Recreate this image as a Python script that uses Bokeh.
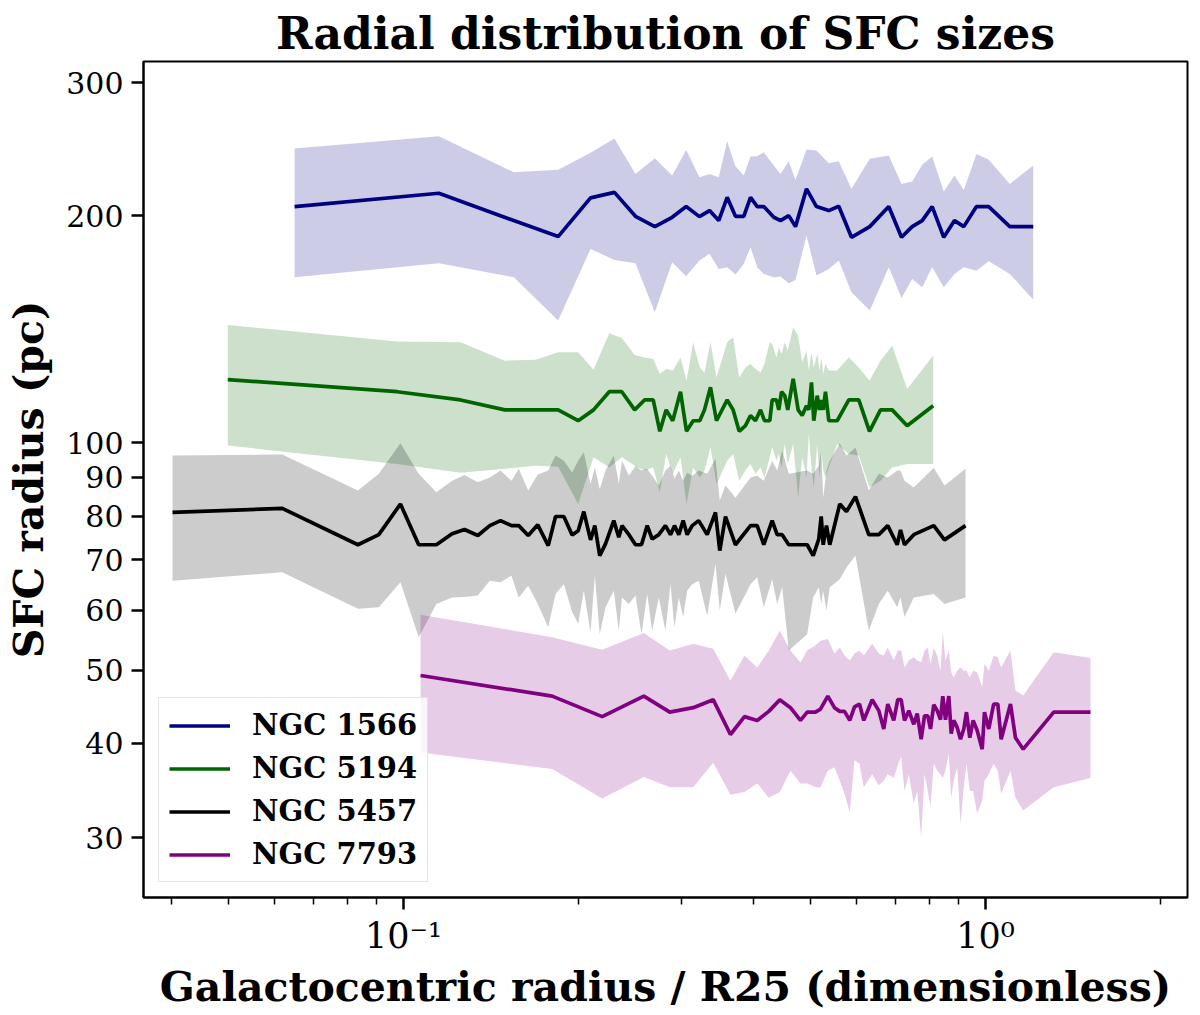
from bokeh.embed import file_html
from bokeh.models import CustomJSTickFormatter, FixedTicker, Range1d
from bokeh.plotting import figure
from bokeh.resources import INLINE

# NGC 1566
r_1566 = [0.0650, 0.1150, 0.1547, 0.1844, 0.2096, 0.2304, 0.2504, 0.2703, 0.2895, 0.3060,
          0.3225, 0.3356, 0.3481, 0.3599, 0.3719, 0.3843, 0.3947, 0.4053, 0.4160, 0.4328,
          0.4444, 0.4592, 0.4716, 0.4926, 0.5124, 0.5380, 0.5597, 0.5885, 0.6327, 0.6821,
          0.7173, 0.7483, 0.7785, 0.8099, 0.8479, 0.8846, 0.9178, 0.9650, 1.013, 1.101, 1.208]
size_1566 = [205.6, 214.1, 197.0, 187.6, 211.1, 214.7, 199.6, 193.4, 199.0, 205.6,
             199.4, 203.1, 197.0, 211.5, 199.6, 199.6, 211.5, 205.6, 205.6, 199.0,
             197.0, 200.0, 193.4, 217.0, 205.6, 203.1, 205.8, 187.2, 193.4, 205.6,
             187.2, 193.4, 197.0, 205.6, 187.2, 197.0, 193.4, 205.6, 205.6, 193.4, 193.4]
hi_1566 = [245.5, 254.7, 228.2, 230.1, 242.2, 253.0, 227.1, 238.2, 226.0, 244.4,
           224.8, 227.1, 224.8, 250.9, 232.5, 226.0, 239.5, 239.7, 242.6, 233.0,
           227.1, 236.0, 223.0, 244.6, 243.9, 234.6, 236.0, 217.0, 237.8, 240.2,
           220.3, 221.9, 233.5, 239.5, 215.2, 226.0, 216.3, 241.4, 237.1, 220.3, 233.0]
lo_1566 = [165.7, 172.9, 165.7, 145.2, 180.7, 174.7, 172.9, 148.9, 173.5, 166.2,
           174.4, 178.0, 170.0, 170.8, 167.1, 172.6, 181.6, 170.8, 167.4, 165.7,
           166.1, 162.7, 164.4, 188.2, 166.6, 170.0, 174.4, 158.3, 149.7, 170.8,
           155.6, 164.9, 160.7, 170.8, 160.7, 167.4, 170.8, 169.1, 174.0, 167.4, 154.7]

# NGC 5194
r_5194 = [0.0499, 0.0975, 0.1253, 0.1493, 0.1686, 0.1844, 0.1996, 0.2121, 0.2257, 0.2372,
          0.2496, 0.2595, 0.2686, 0.2757, 0.2827, 0.2902, 0.2992, 0.3064, 0.3146, 0.3229,
          0.3290, 0.3369, 0.3450, 0.3599, 0.3685, 0.3774, 0.3869, 0.3947, 0.4025, 0.4106,
          0.4171, 0.4260, 0.4300, 0.4374, 0.4414, 0.4462, 0.4520, 0.4574, 0.4673, 0.4766,
          0.4842, 0.4926, 0.4971, 0.5024, 0.5070, 0.5139, 0.5186, 0.5227, 0.5262, 0.5310,
          0.5380, 0.5562, 0.5823, 0.6058, 0.6320, 0.6601, 0.6914, 0.7336, 0.8131]
size_5194 = [121.3, 116.9, 114.0, 110.6, 110.6, 110.6, 107.0, 110.6, 116.9, 116.9,
             110.6, 114.0, 114.0, 103.6, 110.6, 107.0, 116.9, 103.6, 107.0, 107.0,
             110.6, 118.5, 107.0, 114.0, 110.6, 103.6, 105.4, 108.7, 107.0, 110.6,
             107.0, 107.0, 114.0, 114.0, 110.6, 116.9, 115.5, 110.6, 121.6, 110.6,
             108.7, 112.0, 110.6, 120.3, 107.0, 115.5, 110.6, 114.0, 110.6, 116.9,
             107.0, 107.0, 114.0, 114.0, 103.6, 110.6, 110.6, 105.4, 112.0]
hi_5194 = [143.3, 136.2, 135.9, 128.5, 128.9, 131.8, 131.8, 125.0, 139.7, 137.7,
           130.7, 129.8, 129.2, 123.4, 125.3, 124.7, 129.8, 120.9, 135.9, 125.9,
           124.0, 135.9, 122.1, 135.9, 138.0, 122.1, 125.9, 127.2, 125.3, 124.0,
           127.2, 135.9, 135.2, 129.8, 133.9, 131.2, 135.9, 132.5, 142.3, 138.7,
           127.9, 132.5, 124.7, 131.8, 125.9, 131.2, 124.7, 129.8, 123.4, 127.2,
           124.7, 124.7, 129.8, 125.9, 120.9, 128.5, 134.5, 117.9, 130.5]
lo_5194 = [99.2, 93.8, 91.3, 92.4, 93.3, 93.0, 83.0, 95.7, 92.8, 95.7,
           93.3, 91.9, 92.8, 86.0, 96.7, 91.0, 95.7, 83.0, 92.8, 90.0,
           91.9, 98.7, 88.2, 94.7, 96.7, 89.1, 91.9, 93.8, 91.0, 92.8,
           90.0, 95.7, 98.7, 94.7, 96.7, 92.8, 99.7, 93.8, 99.7, 84.7,
           95.7, 90.0, 102.8, 92.8, 87.3, 99.7, 90.0, 97.7, 91.9, 90.0,
           92.8, 99.7, 96.7, 96.2, 87.3, 89.1, 92.8, 93.8, 93.8]

# NGC 5457
r_5457 = [0.0401, 0.0619, 0.0835, 0.0907, 0.0988, 0.1062, 0.1139, 0.1212, 0.1273, 0.1342,
          0.1407, 0.1468, 0.1533, 0.1578, 0.1638, 0.1701, 0.1773, 0.1825, 0.1886, 0.1949,
          0.1996, 0.2041, 0.2096, 0.2132, 0.2174, 0.2224, 0.2298, 0.2344, 0.2374, 0.2440,
          0.2504, 0.2564, 0.2623, 0.2675, 0.2746, 0.2819, 0.2876, 0.2922, 0.2972, 0.3024,
          0.3072, 0.3134, 0.3216, 0.3325, 0.3436, 0.3495, 0.3575, 0.3719, 0.3947, 0.4053,
          0.4160, 0.4300, 0.4386, 0.4474, 0.4592, 0.4939, 0.5058, 0.5171, 0.5221, 0.5262,
          0.5331, 0.5401, 0.5619, 0.5770, 0.5979, 0.6302, 0.6557, 0.6794, 0.7052, 0.7145,
          0.7259, 0.7530, 0.8150, 0.8503, 0.9240]
size_5457 = [80.9, 81.9, 73.3, 75.6, 83.0, 73.3, 73.3, 75.8, 76.8, 75.4,
             77.7, 78.9, 77.7, 77.7, 75.4, 77.9, 73.1, 79.9, 79.9, 75.5,
             76.5, 81.1, 74.4, 77.7, 70.9, 73.5, 78.9, 75.0, 77.7, 75.6,
             73.3, 73.3, 77.7, 74.6, 75.6, 77.7, 75.6, 77.7, 75.6, 78.9,
             75.6, 77.7, 78.9, 75.6, 80.9, 72.0, 79.9, 73.3, 77.7, 77.7,
             73.3, 78.9, 75.6, 75.6, 73.3, 73.3, 70.9, 74.6, 79.9, 73.3,
             77.7, 73.3, 83.0, 81.1, 84.9, 75.6, 75.6, 77.7, 73.3, 76.7,
             73.3, 75.6, 77.7, 74.4, 77.7]
hi_5457 = [96.2, 96.5, 86.5, 91.0, 99.9, 91.0, 86.0, 89.1, 90.7, 88.7,
           90.0, 91.9, 89.1, 92.4, 86.5, 90.8, 91.9, 96.2, 94.7, 91.4,
           94.7, 97.2, 88.2, 92.8, 86.9, 91.9, 96.2, 88.3, 94.7, 90.5,
           93.3, 91.9, 92.4, 90.5, 87.8, 91.9, 93.3, 89.7, 91.9, 89.1,
           91.3, 90.5, 91.9, 91.0, 95.3, 83.9, 87.8, 84.6, 90.0, 90.5,
           89.1, 94.7, 91.9, 97.7, 91.0, 91.9, 91.0, 93.3, 97.7, 84.6,
           91.9, 94.7, 99.8, 96.2, 98.6, 86.5, 91.0, 90.0, 91.9, 91.9,
           89.1, 87.3, 92.7, 87.8, 92.4]
lo_5457 = [65.7, 67.4, 60.3, 60.6, 65.4, 55.3, 61.2, 62.4, 62.5, 62.8,
           65.7, 65.4, 66.7, 62.4, 64.7, 61.2, 57.0, 63.1, 65.0, 59.7,
           57.6, 63.7, 56.1, 66.7, 55.8, 60.6, 63.7, 56.4, 62.4, 61.2,
           62.8, 55.8, 63.1, 56.4, 62.4, 56.4, 65.0, 57.0, 62.4, 58.8,
           63.7, 65.0, 65.7, 59.0, 69.1, 60.0, 67.1, 59.4, 65.0, 66.4,
           60.6, 66.0, 61.2, 64.4, 53.1, 55.8, 62.4, 64.4, 61.2, 63.7,
           60.0, 64.4, 66.0, 68.4, 70.9, 56.4, 61.2, 63.7, 60.6, 62.4,
           58.8, 62.4, 63.1, 61.2, 62.4]

# NGC 7793
r_7793 = [0.1070, 0.1801, 0.2195, 0.2588, 0.2868, 0.3146, 0.3405, 0.3646, 0.3854, 0.4053,
          0.4243, 0.4432, 0.4623, 0.4810, 0.4939, 0.5104, 0.5206, 0.5359, 0.5502, 0.5619,
          0.5725, 0.5846, 0.5956, 0.6075, 0.6179, 0.6387, 0.6557, 0.6687, 0.6794, 0.6957,
          0.7068, 0.7164, 0.7259, 0.7383, 0.7530, 0.7633, 0.7754, 0.7856, 0.7960, 0.8045,
          0.8150, 0.8261, 0.8370, 0.8446, 0.8537, 0.8649, 0.8732, 0.8822, 0.8941, 0.9059,
          0.9178, 0.9276, 0.9398, 0.9525, 0.9677, 0.9871, 0.9961, 1.013, 1.033, 1.050,
          1.064, 1.104, 1.126, 1.161, 1.310, 1.515]
size_7793 = [49.2, 46.2, 43.4, 46.2, 44.0, 44.6, 45.7, 41.1, 43.4, 42.9,
             44.1, 45.7, 44.6, 42.9, 44.0, 44.0, 44.4, 46.2, 44.6, 44.1,
             44.1, 42.9, 44.7, 45.1, 42.9, 45.7, 44.2, 41.8, 45.1, 42.9,
             45.7, 45.7, 42.9, 44.2, 42.4, 43.8, 40.5, 43.5, 43.5, 41.8,
             45.0, 44.2, 43.0, 46.2, 43.0, 46.2, 41.2, 42.9, 42.0, 40.5,
             41.8, 44.0, 40.7, 42.9, 41.6, 39.3, 44.0, 41.8, 45.1, 45.1,
             40.5, 45.1, 40.7, 39.3, 44.0, 44.0]
hi_7793 = [59.2, 55.3, 53.2, 56.0, 53.1, 54.2, 53.4, 48.4, 52.3, 50.4,
           53.1, 56.4, 53.1, 51.2, 53.1, 53.9, 54.7, 55.0, 52.6, 53.6,
           52.3, 51.5, 52.6, 53.1, 52.3, 54.2, 52.6, 52.3, 53.6, 51.5,
           53.1, 53.1, 50.4, 51.5, 52.0, 51.5, 51.2, 53.1, 53.6, 51.0,
           53.6, 52.3, 49.9, 56.1, 51.5, 53.1, 49.7, 48.9, 49.9, 50.4,
           49.9, 49.9, 48.9, 49.9, 49.7, 47.5, 51.0, 49.9, 52.3, 52.0,
           50.4, 53.1, 47.0, 46.3, 52.8, 51.9]
lo_7793 = [38.9, 37.0, 33.8, 36.1, 35.0, 35.0, 37.7, 34.2, 34.5, 35.4,
           33.9, 34.5, 36.8, 35.4, 35.4, 35.0, 35.0, 36.8, 37.2, 35.7,
           34.3, 32.4, 38.0, 37.6, 35.0, 36.4, 35.2, 35.7, 36.4, 36.0,
           37.4, 38.4, 34.6, 36.4, 33.3, 34.6, 30.0, 36.4, 34.6, 33.0,
           37.6, 36.8, 36.4, 36.0, 36.8, 38.8, 33.9, 35.7, 37.2, 31.3,
           35.0, 37.6, 34.6, 34.6, 32.3, 33.6, 35.7, 36.4, 37.6, 36.8,
           34.3, 36.8, 33.9, 32.6, 35.0, 36.0]

galaxies = ["NGC 1566", "NGC 5194", "NGC 5457", "NGC 7793"]
colors = ["#000080", "#006400", "#000000", "#800080"]
series = [(r_1566, size_1566, lo_1566, hi_1566),
          (r_5194, size_5194, lo_5194, hi_5194),
          (r_5457, size_5457, lo_5457, hi_5457),
          (r_7793, size_7793, lo_7793, hi_7793)]

x_major = [0.1, 1.0]
x_minor = [0.04, 0.05, 0.06, 0.07, 0.08, 0.09, 0.2, 0.3, 0.4, 0.5, 0.6, 0.7, 0.8, 0.9, 2.0]
y_ticks = [30, 40, 50, 60, 70, 80, 90, 100, 200, 300]

serif = "DejaVu Serif"

p = figure(x_axis_type="log", y_axis_type="log",
           frame_width=1044, frame_height=836,
           min_border_left=143, min_border_right=4, min_border_top=61, min_border_bottom=108,
           x_range=Range1d(0.03575, 2.224), y_range=Range1d(25.0, 320.0),
           title="Radial distribution of SFC sizes",
           output_backend="svg", toolbar_location=None)

p.title.align = "center"
p.title.text_font = serif
p.title.text_font_style = "bold"
p.title.text_font_size = "44px"
p.title.text_color = "black"
p.title.standoff = 6

p.xgrid.visible = False
p.ygrid.visible = False
p.outline_line_color = "black"
p.outline_line_width = 2
p.outline_line_alpha = 1

for (r, size, lo, hi), name, col in zip(series, galaxies, colors):
    p.varea(x=r, y1=lo, y2=hi, fill_color=col, fill_alpha=0.2)
    p.line(r, size, line_color=col, line_width=3.7, legend_label=name)

p.xaxis.ticker = FixedTicker(ticks=x_major, minor_ticks=x_minor)
p.xaxis.formatter = CustomJSTickFormatter(code="return tick < 0.5 ? '10\u207b\u00b9' : '10\u2070'")
p.yaxis.ticker = FixedTicker(ticks=y_ticks, minor_ticks=[])
p.yaxis.formatter = CustomJSTickFormatter(code="return tick.toFixed(0)")

for ax in (p.xaxis, p.yaxis):
    ax.axis_line_width = 2
    ax.axis_line_color = "black"
    ax.major_tick_in = 0
    ax.major_tick_out = 12
    ax.major_tick_line_width = 2.5
    ax.minor_tick_in = 0
    ax.minor_tick_out = 7
    ax.minor_tick_line_width = 1.5
    ax.major_label_text_font = serif
    ax.major_label_text_color = "black"
    ax.axis_label_text_font = serif
    ax.axis_label_text_font_style = "bold"
    ax.axis_label_text_font_size = "41px"
    ax.axis_label_text_color = "black"

p.xaxis.major_label_text_font_size = "35px"
p.yaxis.major_label_text_font_size = "30px"
p.xaxis.major_label_standoff = 6
p.yaxis.major_label_standoff = 8
p.xaxis.axis_label = "Galactocentric radius / R25 (dimensionless)"
p.yaxis.axis_label = "SFC radius (pc)"
p.xaxis.axis_label_standoff = 4
p.yaxis.axis_label_standoff = 10

p.legend.location = "bottom_left"
p.legend.margin = 15
p.legend.padding = 10
p.legend.spacing = 9
p.legend.glyph_width = 61
p.legend.glyph_height = 31
p.legend.label_height = 31
p.legend.label_standoff = 22
p.legend.label_text_font = serif
p.legend.label_text_font_style = "bold"
p.legend.label_text_font_size = "29px"
p.legend.label_text_color = "black"
p.legend.border_line_color = "#cccccc"
p.legend.border_line_width = 1.5
p.legend.background_fill_alpha = 0.8

open("out.html", "w").write(file_html(p, INLINE))
